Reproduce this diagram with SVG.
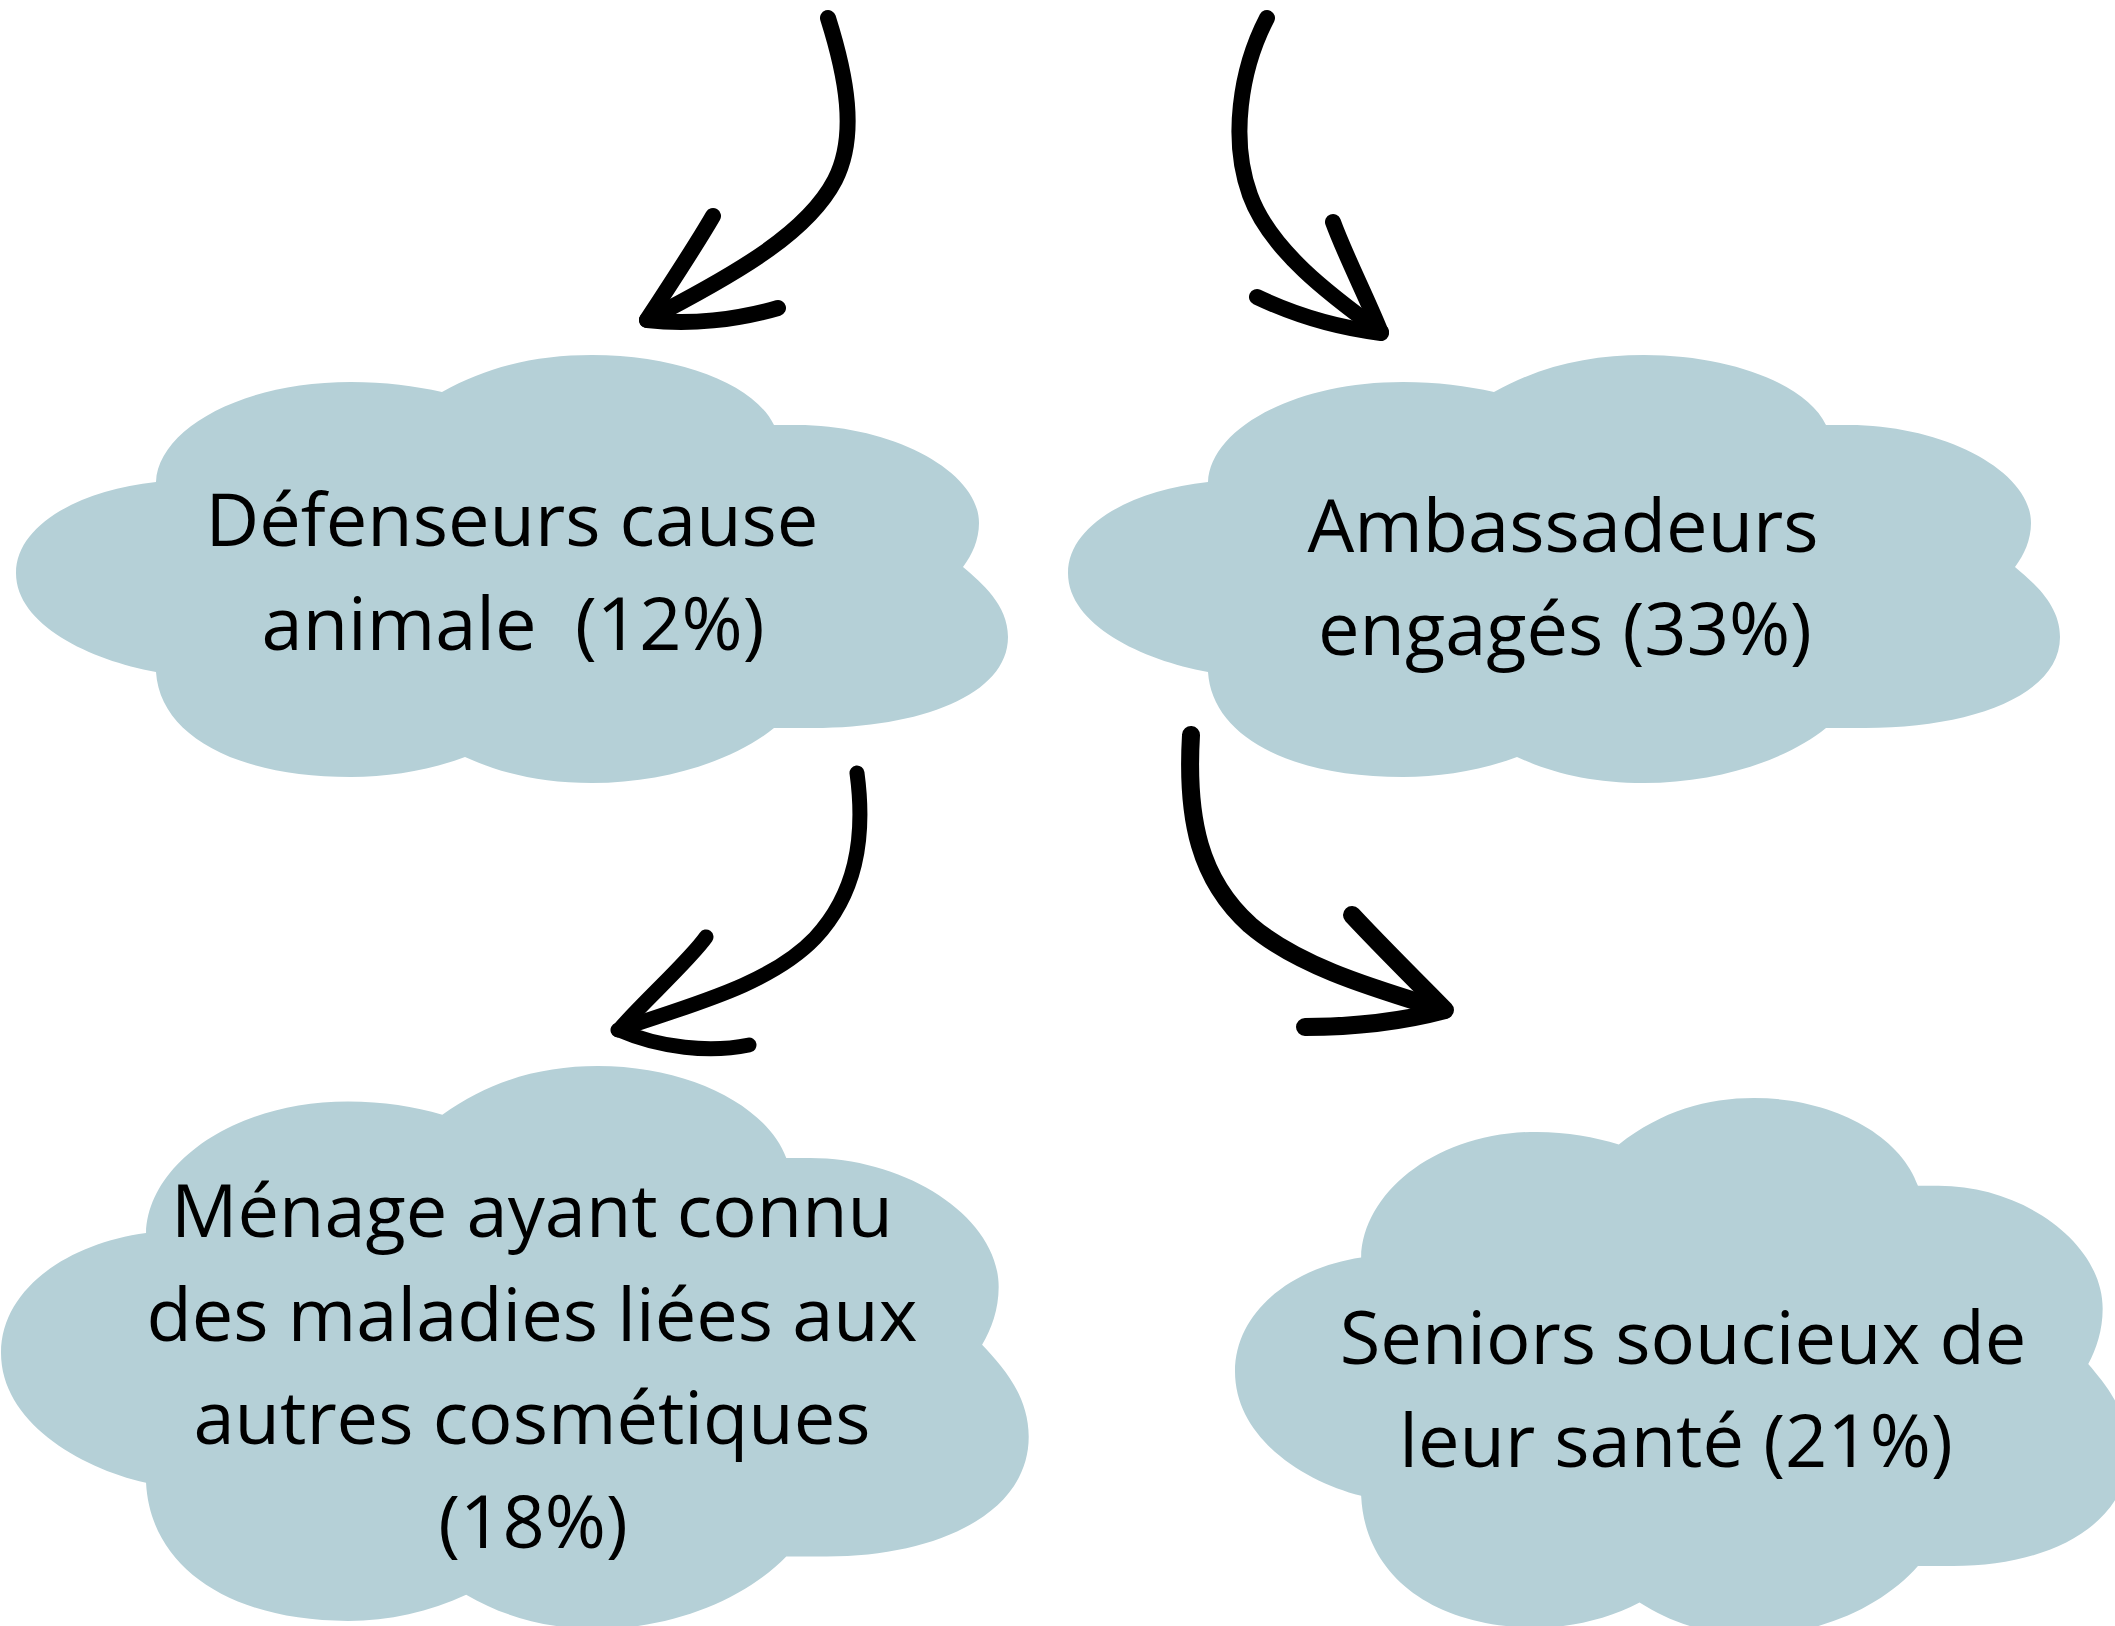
<svg xmlns="http://www.w3.org/2000/svg" width="2115" height="1626" viewBox="0 0 2115 1626">
<style>
.cloud{fill:#b5d0d7;}
.label{font-family:"Open Sans","Noto Sans","Liberation Sans",sans-serif;font-size:74px;fill:#000;text-anchor:middle;}
.arrow{fill:none;stroke:#000;stroke-linecap:round;stroke-linejoin:round;}
</style>
<defs>
<path id="cloudShape" d="M156,482 C158,430 240,382 351,382 C385,382 415,386 442,392 C490,365 540,355 592,355 C680,355 755,385 774,425 L797,425 C890,425 979,470 979,523 C979,540 972,555 963,567 C982,583 1008,605 1008,637 C1008,695 920,728 813,728 L774,728 C735,760 665,783 592,783 C540,783 500,773 465,757 C430,770 390,777 351,777 C235,777 160,735 156,672 C90,660 16,625 16,573 C16,525 80,490 156,482 Z"/>
</defs>
<rect width="2115" height="1626" fill="#ffffff"/>
<g id="node-defenseurs">
<use href="#cloudShape" class="cloud"/>
<text class="label" xml:space="preserve"><tspan x="512" y="546">Défenseurs cause</tspan><tspan x="513" y="650">animale  (12%)</tspan></text>
</g>
<g id="node-ambassadeurs">
<use href="#cloudShape" class="cloud" transform="translate(1052,0)"/>
<text class="label"><tspan x="1563" y="552">Ambassadeurs</tspan><tspan x="1565" y="655">engagés (33%)</tspan></text>
</g>
<g id="node-menage">
<use href="#cloudShape" class="cloud" transform="translate(1,1066) scale(1.036,1.315) translate(-16,-355)"/>
<text class="label"><tspan x="532" y="1237">Ménage ayant connu</tspan><tspan x="532" y="1341">des maladies liées aux</tspan><tspan x="532" y="1444">autres cosmétiques</tspan><tspan x="533" y="1548">(18%)</tspan></text>
</g>
<g id="node-seniors">
<use href="#cloudShape" class="cloud" transform="translate(1235,1098) scale(0.901,1.255) translate(-16,-355)"/>
<text class="label"><tspan x="1683" y="1364">Seniors soucieux de</tspan><tspan x="1676" y="1467">leur santé (21%)</tspan></text>
</g>
<g id="connectors">
<path class="arrow" stroke-width="16" d="M828,18 C846,75 858,135 835,180 C808,232 740,272 647,320"/>
<path class="arrow" stroke-width="16" d="M713,216 C698,242 668,288 647,320 C690,325 737,320 778,308"/>
<path class="arrow" stroke-width="16" d="M1267,18 C1240,70 1230,140 1250,195 C1270,250 1330,295 1381,332"/>
<path class="arrow" stroke-width="16" d="M1333,222 C1345,255 1368,300 1381,333 C1340,328 1295,315 1257,297"/>
<path class="arrow" stroke-width="15" d="M857,773 C866,840 855,895 815,938 C770,985 690,1005 618,1030"/>
<path class="arrow" stroke-width="15" d="M706,937 C690,960 640,1005 619,1030 C660,1048 710,1053 749,1045"/>
<path class="arrow" stroke-width="18" d="M1191,735 C1186,820 1200,880 1250,925 C1300,968 1380,990 1444,1010"/>
<path class="arrow" stroke-width="18" d="M1352,915 C1380,945 1420,985 1445,1010 C1400,1022 1350,1027 1305,1027"/>
</g>
</svg>
